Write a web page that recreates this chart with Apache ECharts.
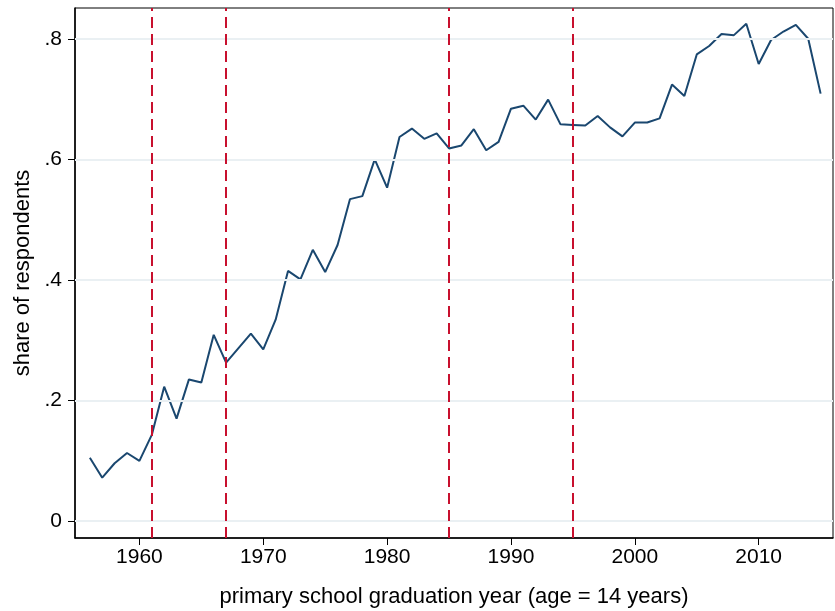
<!DOCTYPE html>
<html>
<head>
<meta charset="utf-8">
<script src="https://cdn.jsdelivr.net/npm/echarts@6/dist/echarts.min.js"></script>
<style>
  html, body { margin: 0; padding: 0; background: #fff; }
  #chart { width: 835px; height: 611px; }
</style>
</head>
<body>
<div id="chart"></div>
<script>
var years = [];
for (var y = 1956; y <= 2015; y++) years.push(y);

var share = [
  0.105, 0.072, 0.096, 0.113, 0.100, 0.143, 0.223, 0.170, 0.235, 0.230,
  0.309, 0.263, 0.287, 0.311, 0.285, 0.334, 0.415, 0.401, 0.450, 0.413,
  0.458, 0.534, 0.539, 0.600, 0.553, 0.637, 0.651, 0.634, 0.643, 0.618,
  0.623, 0.650, 0.615, 0.629, 0.684, 0.689, 0.666, 0.699, 0.658, 0.657,
  0.656, 0.672, 0.653, 0.638, 0.661, 0.661, 0.668, 0.724, 0.705, 0.774,
  0.788, 0.808, 0.806, 0.825, 0.758, 0.798, 0.812, 0.823, 0.800, 0.709
];

var reformYears = [1961, 1967, 1985, 1995];
var xTicks = [1960, 1970, 1980, 1990, 2000, 2010];
var yTicks = [0, 0.2, 0.4, 0.6, 0.8];

var font = 'Liberation Sans, Arial, sans-serif';

var chart = echarts.init(document.getElementById('chart'));

var option = {
  animation: false,
  grid: {
    left: 75, right: 2, top: 8, bottom: 73,
    outerBoundsMode: 'none',
    containLabel: false,
    show: true, borderColor: '#000', borderWidth: 1
  },
  xAxis: {
    type: 'value',
    min: 1954.8, max: 2016,
    name: 'primary school graduation year (age = 14 years)',
    nameLocation: 'middle', nameGap: 48,
    nameTextStyle: { fontFamily: font, fontSize: 22, color: '#000' },
    axisLine: { onZero: false, lineStyle: { color: '#000', width: 1.5 } },
    axisTick: { customValues: xTicks, length: 7, lineStyle: { color: '#000' } },
    axisLabel: {
      customValues: xTicks, margin: 9,
      fontFamily: font, fontSize: 21, color: '#000',
      formatter: function (v) { return String(v); }
    },
    splitLine: { show: false }
  },
  yAxis: {
    type: 'value',
    min: -0.028, max: 0.851,
    name: 'share of respondents',
    nameLocation: 'middle', nameGap: 41, nameRotate: 90,
    nameTextStyle: { fontFamily: font, fontSize: 22, color: '#000' },
    axisLine: { onZero: false, lineStyle: { color: '#000', width: 1.5 } },
    axisTick: { customValues: yTicks, length: 7, lineStyle: { color: '#000' } },
    axisLabel: {
      customValues: yTicks, margin: 13,
      fontFamily: font, fontSize: 21, color: '#000',
      formatter: function (v) { return v === 0 ? '0' : String(+v.toFixed(1)).replace(/^0/, ''); }
    },
    splitLine: { show: false }
  },
  series: [
    {
      // light horizontal grid lines
      type: 'line', data: [], silent: true,
      markLine: {
        silent: true, symbol: 'none', label: { show: false },
        lineStyle: { color: '#eaf0f3', width: 2, type: 'solid' },
        data: yTicks.map(function (v) { return { yAxis: v }; })
      }
    },
    {
      type: 'line',
      data: years.map(function (yr, i) { return [yr, share[i]]; }),
      showSymbol: false,
      lineStyle: { color: '#1a476f', width: 2 },
      z: 3,
      markLine: {
        silent: true, symbol: 'none', label: { show: false },
        lineStyle: { color: '#c8102e', width: 2, type: [11, 6] },
        data: reformYears.map(function (v) { return { xAxis: v }; })
      }
    }
  ]
};

chart.setOption(option);
</script>
</body>
</html>
